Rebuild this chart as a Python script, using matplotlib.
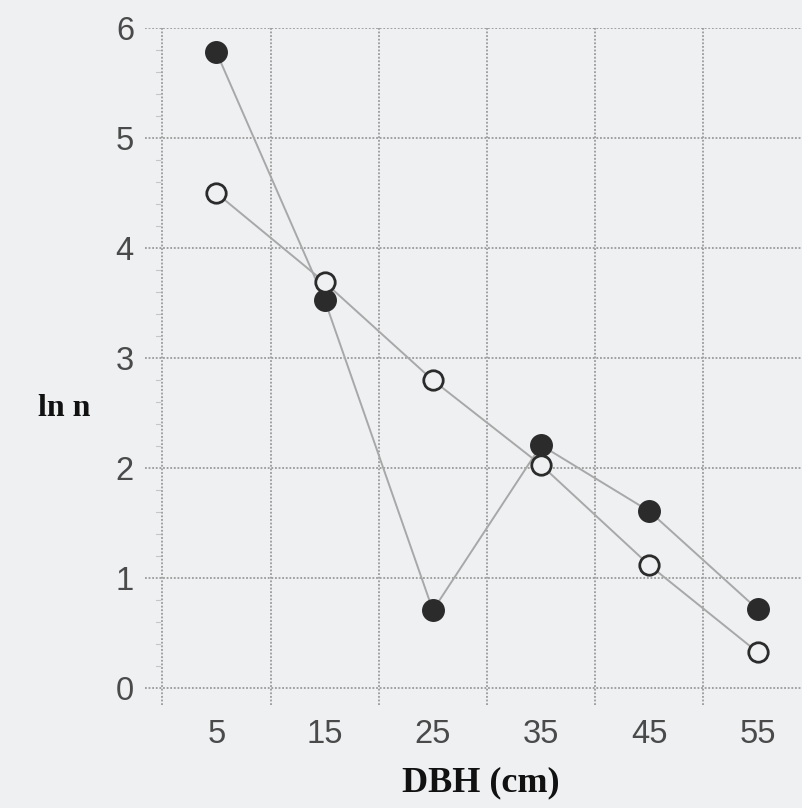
import matplotlib.pyplot as plt
import numpy as np

# DBH class midpoints (cm) and ln n for the two stands
dbh = [5, 15, 25, 35, 45, 55]
ln_n_filled = [5.78, 3.53, 0.71, 2.21, 1.61, 0.72]
ln_n_open = [4.50, 3.69, 2.80, 2.03, 1.12, 0.33]
y_ticks = [0, 1, 2, 3, 4, 5, 6]
x_grid = [0, 10, 20, 30, 40, 50]

bg = "#eef0f2"
grid_col = "#9a9a9a"

fig = plt.figure(figsize=(8.03, 8.08), dpi=100, facecolor=bg)
ax = fig.add_axes([145 / 803, 103 / 808, 1 - 145 / 803, (705 - 28) / 808])
ax.set_facecolor(bg)
ax.set_xlim(-1.6, 59.2)
ax.set_ylim(-0.15, 6.0)

# dotted grid drawn by hand so it can stick out past the zero lines
for y in y_ticks:
    ax.plot([-1.6, 59.2], [y, y], color=grid_col, lw=1.3, ls=(0, (1, 1)), zorder=1)
for x in x_grid:
    ax.plot([x, x], [-0.15, 6.0], color=grid_col, lw=1.3, ls=(0, (1, 1)), zorder=1)

# minor marks along left edge
for y in np.arange(0, 6, 0.2):
    if abs(y - round(y)) > 1e-6:
        ax.plot([-0.6, -0.2], [y, y], color="#c4c6c8", lw=0.8, zorder=1)

ax.plot(dbh, ln_n_filled, color="#a8a8a8", lw=1.4, zorder=2)
ax.plot(dbh, ln_n_open, color="#a8a8a8", lw=1.4, zorder=2)
ax.plot(dbh, ln_n_filled, "o", color="#2b2b2b", ms=15.5, zorder=3)
ax.plot(dbh, ln_n_open, "o", mfc=bg, mec="#2b2b2b", mew=2, ms=14, zorder=3)

for s in ax.spines.values():
    s.set_visible(False)
ax.set_xticks(dbh)
ax.set_yticks(y_ticks)
ax.tick_params(length=0, labelsize=23.5, labelcolor="#4a4a4a")
ax.tick_params(axis="x", pad=10)
ax.tick_params(axis="y", pad=8)
for lab in ax.get_xticklabels() + ax.get_yticklabels():
    lab.set_family("Liberation Sans")

fig.text(481 / 803, 1 - 783 / 808, "DBH (cm)", ha="center", va="center",
         fontsize=26, fontweight="bold", family="Liberation Serif", color="#111111")
fig.text(64 / 803, 1 - 408 / 808, "ln n", ha="center", va="center",
         fontsize=23, fontweight="bold", family="Liberation Serif", color="#111111")

fig.savefig("out.png", dpi=100, facecolor=bg)
